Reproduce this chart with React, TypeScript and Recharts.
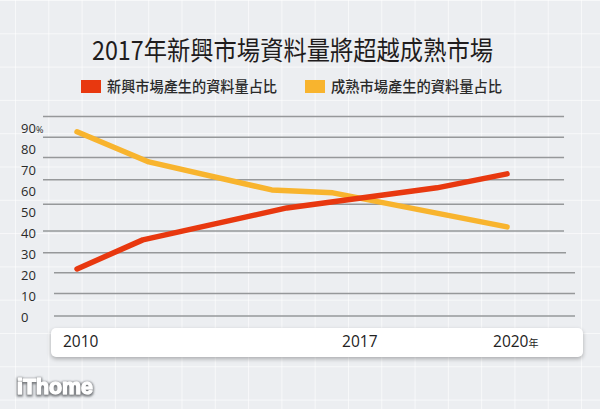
import React from 'react';
import { LineChart, Line, XAxis, YAxis, ReferenceLine } from 'recharts';

// ---- data ----
const titleText = '2017年新興市場資料量將超越成熟市場';
const seriesNames = ['新興市場產生的資料量占比', '成熟市場產生的資料量占比'];
const seriesColors = ['#e8380f', '#f8b42e'];

const emergingX = [2010, 2011.53, 2014.88, 2018.37, 2020];
const emergingY = [23.0, 36.9, 52.2, 61.8, 68.5];

const matureX = [2010, 2011.67, 2014.53, 2015.95, 2020];
const matureY = [88.6, 74.2, 60.8, 59.4, 43.1];

const xTicks = [2010, 2016.49, 2020];
const xTickLabels = ['2010', '2017', '2020'];
const xTickSuffix = ['', '', '年'];

const yTicks = [0, 10, 20, 30, 40, 50, 60, 70, 80, 90];
const yTickSuffix = ['', '', '', '', '', '', '', '', '', '%'];

// decorative horizontal rules (value, from-x, to-x)
const guideValues = [95.9, 86.0, 76.3, 65.7, 54.0, 41.2, 30.8, 21.2, 11.2, 0.5];
const guideFrom = [2009.209, 2009.209, 2009.209, 2009.209, 2009.209, 2009.209, 2009.209, 2009.465, 2009.465, 2009.465];
const guideTo = [2021.326, 2021.326, 2021.326, 2021.326, 2021.326, 2021.326, 2021.372, 2021.581, 2021.581, 2021.581];

const xDomain: [number, number] = [2009.209, 2021.581];

const emergingData = emergingX.map((x, i) => ({ x, v: emergingY[i] }));
const matureData = matureX.map((x, i) => ({ x, v: matureY[i] }));

const tickFont = '"Open Sans", "Noto Sans", sans-serif';
const cjkFont = '"Noto Sans CJK TC", "Noto Sans CJK SC", sans-serif';

const YTick = (props: any) => {
  const { x, y, payload } = props;
  const idx = yTicks.indexOf(payload.value);
  const suf = idx >= 0 ? yTickSuffix[idx] : '';
  return (
    <text x={x - 22} y={y} dy="0.35em" textAnchor="start" fontFamily={tickFont} fontSize={13} fill="#2a2a2a">
      {payload.value}
      {suf ? <tspan fontSize={9}>{suf}</tspan> : null}
    </text>
  );
};

const XTick = (props: any) => {
  const { x, y, payload } = props;
  const idx = xTicks.indexOf(payload.value);
  const label = idx >= 0 ? xTickLabels[idx] : String(payload.value);
  const suf = idx >= 0 ? xTickSuffix[idx] : '';
  return (
    <text x={x - 14} y={y + 25} dy="0.35em" textAnchor="start" fontFamily={tickFont} fontSize={15.5} fill="#222">
      {label}
      {suf ? <tspan fontSize={10} fontFamily={cjkFont}>{suf}</tspan> : null}
    </text>
  );
};

export default function App() {
  return (
    <div
      style={{
        position: 'absolute',
        left: 0,
        top: 0,
        width: 600,
        height: 409,
        overflow: 'hidden',
        backgroundColor: '#eceef1',
        backgroundImage:
          'linear-gradient(to right, rgba(255,255,255,0.6) 1px, transparent 1px), linear-gradient(to bottom, rgba(255,255,255,0.6) 1px, transparent 1px)',
        backgroundSize: '33.3px 33.3px',
        backgroundPosition: '15px 0px',
      }}
    >
      <div
        style={{
          position: 'absolute',
          left: 51,
          top: 328,
          width: 532,
          height: 29,
          background: '#ffffff',
          borderRadius: 5,
          boxShadow: '0 2px 4px rgba(0,0,0,0.28)',
        }}
      />
      <LineChart width={600} height={409} margin={{ top: 108, right: 25, left: 0, bottom: 62 }}>
        <XAxis
          dataKey="x"
          type="number"
          domain={xDomain}
          allowDataOverflow
          ticks={xTicks}
          interval={0}
          tick={<XTick />}
          tickSize={0}
          tickMargin={0}
          axisLine={false}
          tickLine={false}
          height={30}
        />
        <YAxis
          type="number"
          domain={[0, 100]}
          ticks={yTicks}
          interval={0}
          tick={<YTick />}
          tickSize={0}
          tickMargin={0}
          axisLine={false}
          tickLine={false}
          width={43}
        />
        {guideValues.map((v, i) => (
          <ReferenceLine
            key={'g' + i}
            segment={[
              { x: guideFrom[i], y: v },
              { x: guideTo[i], y: v },
            ]}
            stroke="#96989a"
            strokeWidth={1.5}
            ifOverflow="visible"
          />
        ))}
        <Line
          data={matureData}
          dataKey="v"
          name={seriesNames[1]}
          type="linear"
          stroke={seriesColors[1]}
          strokeWidth={5.5}
          strokeLinecap="round"
          strokeLinejoin="round"
          dot={false}
          activeDot={false}
          isAnimationActive={false}
        />
        <Line
          data={emergingData}
          dataKey="v"
          name={seriesNames[0]}
          type="linear"
          stroke={seriesColors[0]}
          strokeWidth={5.5}
          strokeLinecap="round"
          strokeLinejoin="round"
          dot={false}
          activeDot={false}
          isAnimationActive={false}
        />
      </LineChart>
      <svg
        width={600}
        height={409}
        style={{ position: 'absolute', left: 0, top: 0, pointerEvents: 'none' }}
      >
        <defs>
          <filter id="logoShadow" x="-20%" y="-50%" width="140%" height="200%">
            <feMorphology in="SourceAlpha" operator="dilate" radius="0.8" result="d" />
            <feGaussianBlur in="d" stdDeviation="1.2" result="b" />
            <feFlood floodColor="#6b6e72" floodOpacity="0.9" />
            <feComposite in2="b" operator="in" result="s" />
            <feOffset dx="0" dy="0.8" result="so" />
            <feMerge>
              <feMergeNode in="so" />
              <feMergeNode in="SourceGraphic" />
            </feMerge>
          </filter>
        </defs>
        <text
          x={92}
          y={60}
          fontFamily={cjkFont}
          fontSize={26}
          fill="#1f1c1d"
          textLength={401}
          lengthAdjust="spacingAndGlyphs"
        >
          {titleText}
        </text>
        <rect x={81} y={80} width={20} height={13} fill={seriesColors[0]} />
        <text x={107} y={91.5} fontFamily={cjkFont} fontSize={15} fontWeight={500} fill="#2a2a2a" textLength={170} lengthAdjust="spacingAndGlyphs">
          {seriesNames[0]}
        </text>
        <rect x={305} y={80} width={20} height={13} fill={seriesColors[1]} />
        <text x={331} y={91.5} fontFamily={cjkFont} fontSize={15} fontWeight={500} fill="#2a2a2a" textLength={171} lengthAdjust="spacingAndGlyphs">
          {seriesNames[1]}
        </text>
        <text
          x={17}
          y={394}
          fontFamily='"Liberation Sans", Arial, sans-serif'
          fontWeight="bold"
          fontSize={22}
          fill="#ffffff"
          stroke="#ffffff"
          strokeWidth={1.2}
          strokeLinejoin="round"
          textLength={76}
          lengthAdjust="spacingAndGlyphs"
          filter="url(#logoShadow)"
        >
          iThome
        </text>
      </svg>
    </div>
  );
}
